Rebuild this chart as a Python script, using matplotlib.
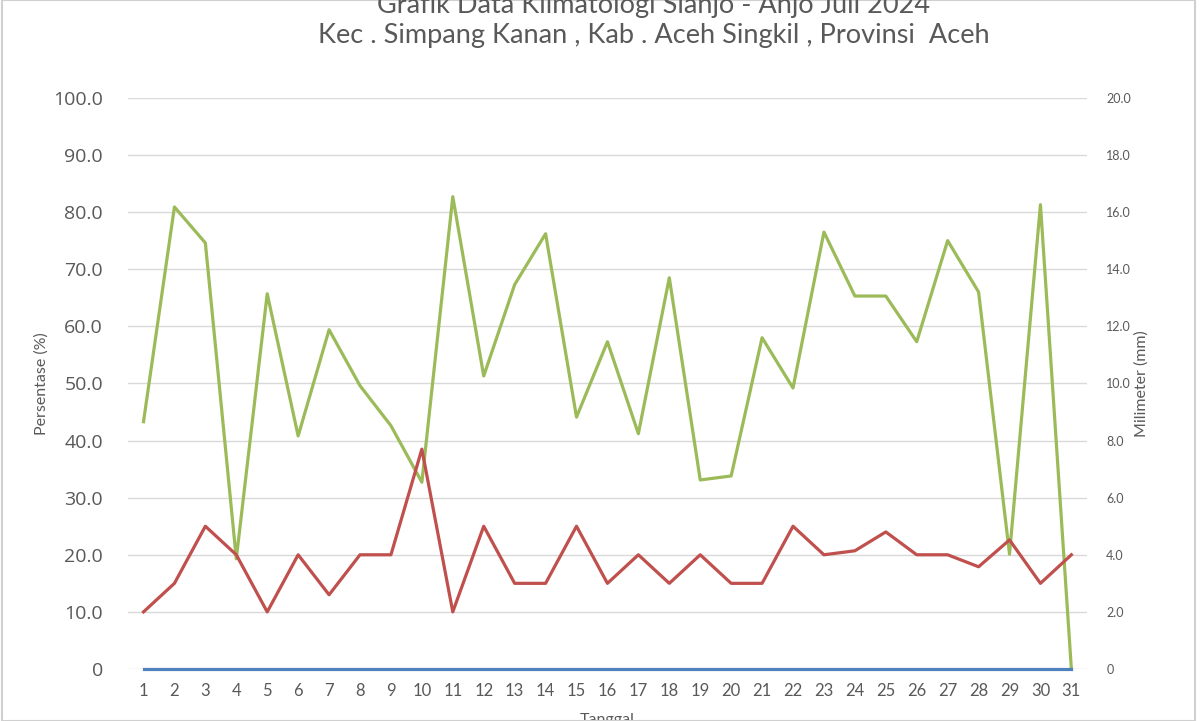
import numpy as np
import matplotlib.pyplot as plt
from matplotlib.patches import Rectangle

plt.rcParams['font.family'] = ['Lato', 'DejaVu Sans']

# data
tanggal = list(range(1, 32))
kelembaban = [43.3, 80.9, 74.6, 19.3, 65.7, 40.8, 59.4, 49.6, 42.6, 32.7,
              82.7, 51.3, 67.3, 76.2, 44.1, 57.3, 41.2, 68.5, 33.1, 33.8,
              58.0, 49.2, 76.5, 65.3, 65.3, 57.3, 75.0, 66.0, 20.1, 81.3, 0.0]
persen_merah = [10, 15, 25, 20, 10, 20, 13, 20, 20, 38.5,
                10, 25, 15, 15, 25, 15, 20, 15, 20, 15,
                15, 25, 20, 20.7, 24, 20, 20, 17.9, 22.6, 15, 20]
curah_hujan = [0.0] * 31

left_ticks = np.arange(0, 101, 10)
right_ticks = np.arange(0, 21, 2)

fig = plt.figure(figsize=(12, 7.21), dpi=100)
fig.patches.append(Rectangle((0.002, 0.0), 0.994, 1.0, transform=fig.transFigure,
                             fill=False, edgecolor='#d0d0d0', linewidth=1.5))

ax = fig.add_axes([0.1067, 0.0721, 0.799, 0.7922])
ax2 = ax.twinx()

ax.plot(tanggal, kelembaban, color='#9BBB59', lw=2.3, zorder=3)
ax.plot(tanggal, persen_merah, color='#C0504D', lw=2.3, zorder=3)
ax2.plot(tanggal, curah_hujan, color='#4F81BD', lw=2.3, zorder=3, clip_on=False)

ax.set_xlim(0.5, 31.5)
ax.set_ylim(0, 100)
ax2.set_ylim(0, 20)
ax.set_xticks(tanggal)
ax.set_xticklabels([str(t) for t in tanggal], fontsize=12, color='#595959')
ax.set_yticks(left_ticks)
ax.set_yticklabels(['0'] + ['%.1f' % v for v in left_ticks[1:]],
                   fontsize=14, color='#595959', family=['Open Sans', 'DejaVu Sans'])
ax2.set_yticks(right_ticks)
ax2.set_yticklabels(['0'] + ['%.1f' % v for v in right_ticks[1:]],
                    fontsize=9, color='#595959')

ax.grid(axis='y', color='#d9d9d9', lw=1.0)
ax.set_axisbelow(True)
for a in (ax, ax2):
    for s in a.spines.values():
        s.set_visible(False)
    a.tick_params(length=0)
ax.tick_params(axis='y', pad=18)
ax.tick_params(axis='x', pad=10)
ax2.tick_params(axis='y', pad=14)

ax.set_ylabel('Persentase (%)', fontsize=11.5, color='#595959', labelpad=3)
ax2.set_ylabel('Milimeter (mm)', fontsize=11.5, color='#595959', labelpad=2)
ax.set_xlabel('Tanggal', fontsize=11.5, color='#595959', labelpad=10)

fig.text(0.545, 0.993, 'Grafik Data Klimatologi Sianjo - Anjo Juli 2024',
         ha='center', va='center', fontsize=19.5, color='#595959')
fig.text(0.545, 0.951, 'Kec . Simpang Kanan , Kab . Aceh Singkil , Provinsi  Aceh',
         ha='center', va='center', fontsize=19.5, color='#595959')

fig.savefig('out.png', dpi=100)
